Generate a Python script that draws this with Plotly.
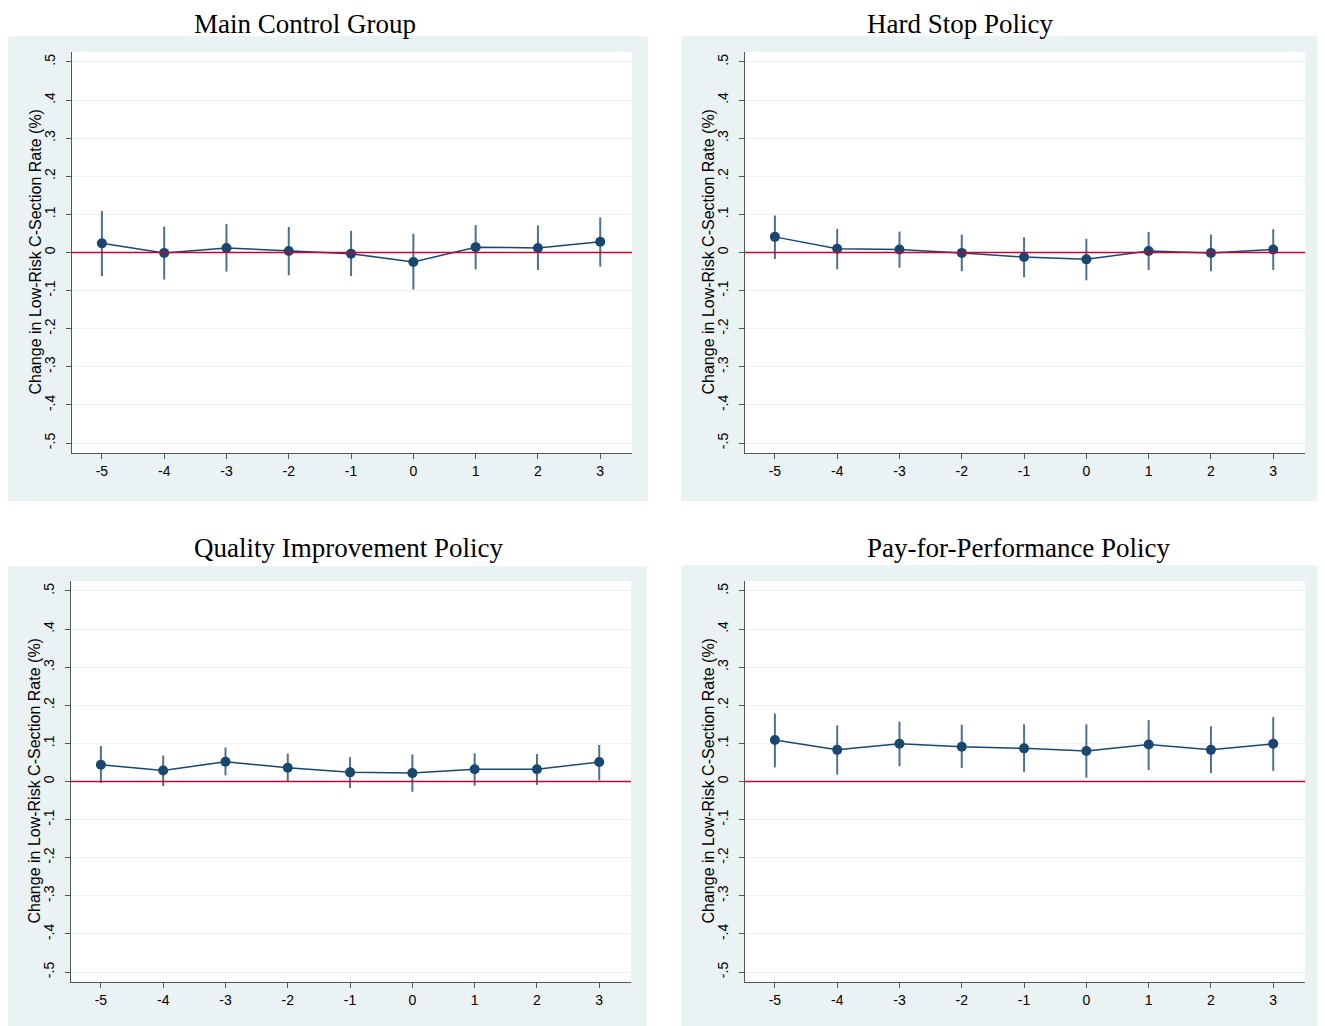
import plotly.graph_objects as go

W, H = 1325, 1026
OFF = 8  # page body margin offset

event_time = [-5, -4, -3, -2, -1, 0, 1, 2, 3]
x_tick_labels = ["-5", "-4", "-3", "-2", "-1", "0", "1", "2", "3"]
y_tick_vals = [-0.5, -0.4, -0.3, -0.2, -0.1, 0, 0.1, 0.2, 0.3, 0.4, 0.5]
y_tick_labels = ["-.5", "-.4", "-.3", "-.2", "-.1", "0", ".1", ".2", ".3", ".4", ".5"]

panel_titles = ["Main Control Group", "Hard Stop Policy",
                "Quality Improvement Policy", "Pay-for-Performance Policy"]
y_title = "Change in Low-Risk C-Section Rate (%)"

main_est = [0.024, -0.001, 0.012, 0.004, -0.003, -0.025, 0.014, 0.012, 0.028]
main_hi = [0.109, 0.068, 0.075, 0.067, 0.057, 0.049, 0.072, 0.071, 0.092]
main_lo = [-0.062, -0.071, -0.050, -0.060, -0.062, -0.097, -0.044, -0.046, -0.037]

hard_est = [0.041, 0.010, 0.008, -0.001, -0.012, -0.018, 0.004, -0.001, 0.008]
hard_hi = [0.097, 0.062, 0.055, 0.047, 0.040, 0.036, 0.054, 0.047, 0.061]
hard_lo = [-0.017, -0.044, -0.040, -0.049, -0.065, -0.073, -0.046, -0.049, -0.046]

qual_est = [0.044, 0.029, 0.052, 0.036, 0.024, 0.022, 0.032, 0.032, 0.051]
qual_hi = [0.093, 0.068, 0.089, 0.073, 0.064, 0.071, 0.074, 0.072, 0.096]
qual_lo = [-0.004, -0.012, 0.016, 0.001, -0.017, -0.027, -0.011, -0.009, 0.003]

p4p_est = [0.109, 0.083, 0.099, 0.091, 0.087, 0.080, 0.097, 0.083, 0.099]
p4p_hi = [0.178, 0.147, 0.157, 0.149, 0.150, 0.150, 0.161, 0.145, 0.169]
p4p_lo = [0.037, 0.018, 0.040, 0.035, 0.025, 0.010, 0.030, 0.022, 0.028]

series = [(main_est, main_hi, main_lo), (hard_est, hard_hi, hard_lo),
          (qual_est, qual_hi, qual_lo), (p4p_est, p4p_hi, p4p_lo)]

# layout in screen pixels: (plot left, plot right, plot top, plot bottom,
#  box left, box right, box top, box bottom, title x, title top)
panels = [
    (72, 632, 52, 453, 8, 648, 36, 501, 193, 8),
    (745, 1305, 52, 453, 681, 1321, 36, 501, 866, 8),
    (71, 631, 581, 982, 8, 647, 566, 1040, 193, 532),
    (745, 1305, 581, 982, 681, 1321, 565, 1040, 866, 532),
]

def px(x):
    return (x - OFF) / W

def py(y):
    return 1 - (y - OFF) / H

NAVY = "#1a476f"
CI = "#4f7191"
RED = "#c10534"
BG = "#eaf2f3"

fig = go.Figure()
shapes = []
annotations = []
layout_axes = {}

for i, ((est, hi, lo), p, title) in enumerate(zip(series, panels, panel_titles)):
    n = i + 1
    xa = "x" if n == 1 else f"x{n}"
    ya = "y" if n == 1 else f"y{n}"
    pl, pr, pt, pb, bl, br, bt, bb, tx, ty = p
    plus = [h - e for h, e in zip(hi, est)]
    minus = [e - l for e, l in zip(est, lo)]
    fig.add_trace(go.Scatter(
        x=event_time, y=est, xaxis=xa, yaxis=ya, mode="lines+markers",
        line=dict(color=NAVY, width=1.5),
        marker=dict(color=NAVY, size=10),
        error_y=dict(type="data", symmetric=False, array=plus, arrayminus=minus,
                     color=CI, thickness=2, width=0),
        showlegend=False, hoverinfo="skip"))
    shapes.append(dict(type="rect", xref="paper", yref="paper", layer="below",
                       x0=px(bl), x1=px(br), y0=max(py(bb), 0), y1=py(bt),
                       fillcolor=BG, line=dict(width=0)))
    shapes.append(dict(type="rect", xref="paper", yref="paper", layer="below",
                       x0=px(pl), x1=px(pr), y0=py(pb), y1=py(pt),
                       fillcolor="white", line=dict(width=0)))
    shapes.append(dict(type="line", xref=f"{xa} domain", yref=ya, layer="above",
                       x0=0, x1=1, y0=0, y1=0, line=dict(color=RED, width=1.5)))
    annotations.append(dict(text=title, xref="paper", yref="paper",
                            x=px(tx), y=min(py(ty), 1), xanchor="left", yanchor="top",
                            showarrow=False, borderpad=0,
                            font=dict(family="Liberation Serif", size=27, color="black")))
    annotations.append(dict(text=y_title, xref="paper", yref="paper",
                            x=px(pl - 37), y=py((pt + pb) / 2), xanchor="center", yanchor="middle",
                            textangle=-90, showarrow=False,
                            font=dict(family="Liberation Sans", size=16, color="black")))
    axkey = "xaxis" if n == 1 else f"xaxis{n}"
    aykey = "yaxis" if n == 1 else f"yaxis{n}"
    layout_axes[axkey] = dict(
        domain=[px(pl), px(pr)], anchor=ya, range=[-5.48, 3.51],
        tickvals=event_time, ticktext=x_tick_labels, ticks="outside", ticklen=5,
        tickcolor="#555", showline=True, linecolor="#555", linewidth=1.2,
        showgrid=False, zeroline=False,
        tickfont=dict(family="Liberation Sans", size=14, color="black"))
    layout_axes[aykey] = dict(
        domain=[py(pb), py(pt)], anchor=xa, range=[-0.526, 0.526],
        tickvals=y_tick_vals, ticktext=y_tick_labels, tickangle=-90,
        ticks="outside", ticklen=5, tickcolor="#555", ticklabelstandoff=5,
        showline=True, linecolor="#555", linewidth=1.2,
        showgrid=True, gridcolor=BG, gridwidth=1, zeroline=False,
        tickfont=dict(family="Liberation Sans", size=14, color="black"))

fig.update_layout(
    width=W, height=H, margin=dict(l=0, r=0, t=0, b=0),
    paper_bgcolor="white", plot_bgcolor="rgba(0,0,0,0)",
    shapes=shapes, annotations=annotations, **layout_axes)

fig.write_html("out.html")
